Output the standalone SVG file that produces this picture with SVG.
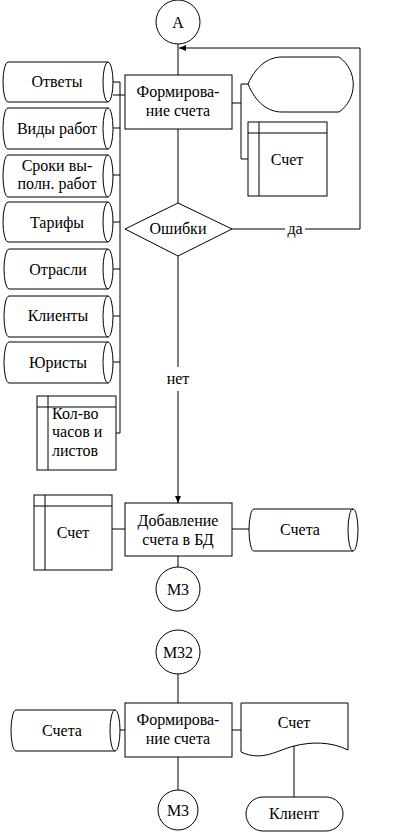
<svg xmlns="http://www.w3.org/2000/svg" width="403" height="833" viewBox="0 0 403 833" font-family="'Liberation Serif', 'Times New Roman', 'DejaVu Serif', serif" font-size="16">
<style>
.s{fill:#fff;stroke:#000;stroke-width:1}
.n{fill:none;stroke:#000;stroke-width:1}
text{font-family:'Liberation Serif','Times New Roman','DejaVu Serif',serif;font-size:16px;fill:#000}
.m{text-anchor:middle}
</style>
<defs>
<marker id="ar" markerWidth="8" markerHeight="8" refX="7" refY="4" orient="auto" markerUnits="userSpaceOnUse">
<path d="M0,1 L7,4 L0,7 Z" fill="#000"/>
</marker>
</defs>
<g id="connectors">
<line class="n" x1="178" y1="44" x2="178" y2="75"/>
<polyline class="n" points="305,229 360,229 360,48 179,48" marker-end="url(#ar)"/>
<line class="n" x1="232" y1="229" x2="285" y2="229"/>
<line class="n" x1="178" y1="129" x2="178" y2="203"/>
<line class="n" x1="178" y1="256" x2="178" y2="367"/>
<line class="n" x1="178" y1="391" x2="178" y2="503" marker-end="url(#ar)"/>
<line class="n" x1="113" y1="95" x2="125" y2="95"/>
<line class="n" x1="120" y1="82" x2="120" y2="433"/>
<line class="n" x1="113" y1="82" x2="120" y2="82"/>
<line class="n" x1="113" y1="128" x2="120" y2="128"/>
<line class="n" x1="113" y1="175" x2="120" y2="175"/>
<line class="n" x1="113" y1="222" x2="120" y2="222"/>
<line class="n" x1="113" y1="269" x2="120" y2="269"/>
<line class="n" x1="113" y1="316" x2="120" y2="316"/>
<line class="n" x1="113" y1="362" x2="120" y2="362"/>
<line class="n" x1="116" y1="433" x2="120" y2="433"/>
<polyline class="n" points="232,103 241,103"/>
<polyline class="n" points="248,84 241,84 241,159 248,159"/>
<line class="n" x1="112" y1="529" x2="125" y2="529"/>
<line class="n" x1="232" y1="529" x2="249" y2="529"/>
<line class="n" x1="178" y1="556" x2="178" y2="567"/>
<line class="n" x1="178" y1="674" x2="178" y2="703"/>
<line class="n" x1="120" y1="730" x2="125" y2="730"/>
<line class="n" x1="232" y1="730" x2="241" y2="730"/>
<line class="n" x1="178" y1="757" x2="178" y2="790"/>
<line class="n" x1="294" y1="746" x2="294" y2="797"/>
</g>
<text x="295" y="234" class="m">да</text>
<text x="178" y="384" class="m">нет</text>
<g id="A"><circle class="s" cx="178" cy="22" r="22"/><text x="178" y="28" class="m">А</text></g>
<g id="proc1"><rect class="s" x="125" y="75" width="107" height="54"/><text x="178" y="97" class="m">Формирова-</text><text x="178" y="116" class="m">ние счета</text></g>
<g id="display"><path class="s" d="M248,84 C256,66 268,57 282,57 L339,57 C358,70 358,99 339,112 L282,112 C268,112 256,103 248,84 Z"/></g>
<g id="schet1"><rect class="s" x="248" y="122" width="79" height="74"/><line class="n" x1="259" y1="122" x2="259" y2="196"/><line class="n" x1="248" y1="133" x2="327" y2="133"/><text x="287" y="165" class="m">Счет</text></g>
<g id="diamond"><polygon class="s" points="178,203 232,229 178,256 125,229"/><text x="178" y="234" class="m">Ошибки</text></g>
<g id="c1"><path class="s" d="M8,62 L108,62 A5,20 0 0 1 108,102 L8,102 A5,20 0 0 1 8,62 Z"/><path class="n" d="M108,62 A5,20 0 0 0 108,102"/><text x="57" y="87" class="m">Ответы</text></g>
<g id="c2"><path class="s" d="M8,108 L108,108 A5,20.5 0 0 1 108,149 L8,149 A5,20.5 0 0 1 8,108 Z"/><path class="n" d="M108,108 A5,20.5 0 0 0 108,149"/><text x="57" y="134" class="m">Виды работ</text></g>
<g id="c3"><path class="s" d="M8,155 L108,155 A5,21 0 0 1 108,197 L8,197 A5,21 0 0 1 8,155 Z"/><path class="n" d="M108,155 A5,21 0 0 0 108,197"/><text x="57" y="171" class="m">Сроки вы-</text><text x="57" y="189" class="m">полн. работ</text></g>
<g id="c4"><path class="s" d="M8,202 L108,202 A5,20 0 0 1 108,242 L8,242 A5,20 0 0 1 8,202 Z"/><path class="n" d="M108,202 A5,20 0 0 0 108,242"/><text x="57" y="228" class="m">Тарифы</text></g>
<g id="c5"><path class="s" d="M9,249 L108,249 A5,20 0 0 1 108,289 L9,289 A5,20 0 0 1 9,249 Z"/><path class="n" d="M108,249 A5,20 0 0 0 108,289"/><text x="58" y="275" class="m">Отрасли</text></g>
<g id="c6"><path class="s" d="M9,296 L108,296 A5,20.5 0 0 1 108,337 L9,337 A5,20.5 0 0 1 9,296 Z"/><path class="n" d="M108,296 A5,20.5 0 0 0 108,337"/><text x="58" y="321" class="m">Клиенты</text></g>
<g id="c7"><path class="s" d="M9,342 L108,342 A5,20.5 0 0 1 108,383 L9,383 A5,20.5 0 0 1 9,342 Z"/><path class="n" d="M108,342 A5,20.5 0 0 0 108,383"/><text x="58" y="368" class="m">Юристы</text></g>
<g id="kolvo"><rect class="s" x="37" y="396" width="79" height="74"/><line class="n" x1="48" y1="396" x2="48" y2="470"/><line class="n" x1="37" y1="407" x2="116" y2="407"/><text x="52" y="419">Кол-во</text><text x="52" y="437">часов и</text><text x="52" y="456">листов</text></g>
<g id="schet2"><rect class="s" x="34" y="495" width="78" height="75"/><line class="n" x1="45" y1="495" x2="45" y2="570"/><line class="n" x1="34" y1="506" x2="112" y2="506"/><text x="73" y="538" class="m">Счет</text></g>
<g id="proc2"><rect class="s" x="125" y="503" width="107" height="53"/><text x="178" y="526" class="m">Добавление</text><text x="178" y="545" class="m">счета в БД</text></g>
<g id="schetaDB"><path class="s" d="M254,509 L353,509 A5,21 0 0 1 353,551 L254,551 A5,21 0 0 1 254,509 Z"/><path class="n" d="M353,509 A5,21 0 0 0 353,551"/><text x="300" y="535" class="m">Счета</text></g>
<g id="M3a"><circle class="s" cx="178" cy="589" r="22"/><text x="178" y="595" class="m">М3</text></g>
<g id="M32"><circle class="s" cx="178" cy="652" r="22"/><text x="178" y="658" class="m">М32</text></g>
<g id="proc3"><rect class="s" x="125" y="703" width="107" height="54"/><text x="178" y="725" class="m">Формирова-</text><text x="178" y="744" class="m">ние счета</text></g>
<g id="schetaDB2"><path class="s" d="M16,710 L115,710 A5,20.5 0 0 1 115,751 L16,751 A5,20.5 0 0 1 16,710 Z"/><path class="n" d="M115,710 A5,20.5 0 0 0 115,751"/><text x="62" y="736" class="m">Счета</text></g>
<g id="doc"><path class="s" d="M241,703 L348,703 L348,750 C330,741 310,742 294,746 C278,750 262,762 241,752 Z"/><text x="294" y="728" class="m">Счет</text></g>
<g id="client"><rect class="s" x="246" y="797" width="97" height="34" rx="17" ry="17"/><text x="294" y="819" class="m">Клиент</text></g>
<g id="M3b"><circle class="s" cx="178" cy="810" r="20"/><text x="178" y="816" class="m">М3</text></g>
</svg>
